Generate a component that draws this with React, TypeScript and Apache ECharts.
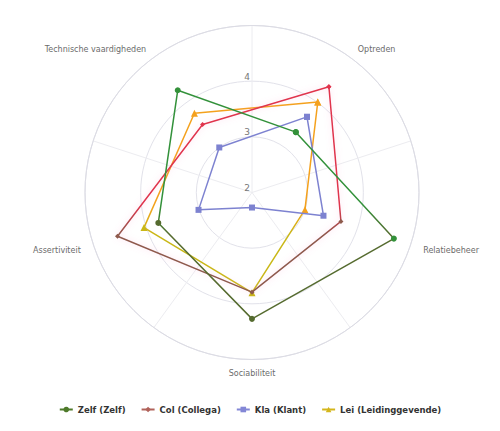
import React, { useEffect, useRef } from "react";
import * as echarts from "echarts";

const categories = ["Optreden", "Relatiebeheer", "Sociabiliteit", "Assertiviteit", "Technische vaardigheden"];
const seriesNames = ["Zelf (Zelf)", "Col (Collega)", "Kla (Klant)", "Lei (Leidinggevende)"];
const zelf = [3.34, 4.68, 4.27, 3.77, 4.27];
const col = [4.35, 3.68, 3.79, 4.54, 3.51];
const kla = [3.68, 3.35, 2.27, 3.01, 3.0];
const lei = [4.01, 3.0, 3.8, 4.04, 3.76];
const radiusTicks = [2, 3, 4, 5];

// styles
const topColors = ["#33913a", "#e0344c", "#7d82d0", "#f4a11e"];
const bottomColors = ["#556b2f", "#8e5a4c", "#7d82d0", "#c9b716"];
const legendColors = ["#4e7a2a", "#b0625a", "#8387d6", "#d4b61c"];
const symbols = ["circle", "diamond", "rect", "triangle"];
const symbolSizes = [6, 5, 6, 7];
const glowColors = ["rgba(0,0,0,0)", "rgba(255,140,200,0.35)", "rgba(0,0,0,0)", "rgba(0,0,0,0)"];
// per-label text tweaks (by category position)
const labelTweaks = [
  { padding: [0, 0, -3, 0] },
  { lineHeight: 4 },
  {},
  { lineHeight: 4 },
  { padding: [0, 0, -3, 0] },
];
// which points use the lower colour (per series, per category)
const lowerFlags = [
  [false, false, true, true, false],
  [false, true, true, true, false],
  [false, false, false, false, false],
  [false, false, true, true, false],
];

export default function App() {
  const ref = useRef<HTMLDivElement>(null);
  useEffect(() => {
    if (!ref.current) return;
    const chart = echarts.init(ref.current, undefined, { renderer: "svg" });
    const all = [zelf, col, kla, lei];
    const font = "DejaVu Sans";
    const series = all.map((vals, s) => {
      const pts = vals.map((v, i) => ({
        value: [v, i],
        itemStyle: { color: lowerFlags[s][i] ? bottomColors[s] : topColors[s] },
      }));
      pts.push({ value: [vals[0], 0], itemStyle: { color: lowerFlags[s][0] ? bottomColors[s] : topColors[s] } });
      return {
        name: seriesNames[s],
        type: "line",
        coordinateSystem: "polar",
        data: pts,
        symbol: symbols[s],
        symbolSize: symbolSizes[s],
        itemStyle: { color: legendColors[s] },
        lineStyle: {
          width: 1.5,
          shadowColor: glowColors[s],
          shadowBlur: 6,
          color: {
            type: "linear",
            x: 0,
            y: 205,
            x2: 0,
            y2: 235,
            global: true,
            colorStops: [
              { offset: 0, color: topColors[s] },
              { offset: 1, color: bottomColors[s] },
            ],
          },
        },
        z: 10 - s,
      };
    });
    const baseLabel = { color: "#6b6b6b", fontSize: 8, lineHeight: 1, fontFamily: font };
    chart.setOption({
      animation: false,
      backgroundColor: "#ffffff",
      textStyle: { fontFamily: font },
      polar: { center: [252, 192.5], radius: 167 },
      angleAxis: {
        type: "category",
        data: categories.map((c, i) => ({ value: c, textStyle: { ...baseLabel, ...labelTweaks[i] } })),
        startAngle: 90,
        clockwise: true,
        boundaryGap: true,
        axisLine: { show: true, lineStyle: { color: "#dcdce4", width: 1 } },
        axisTick: { show: false },
        axisLabel: { ...baseLabel, margin: 13 },
        splitLine: { show: true, lineStyle: { color: "#ececf0", width: 1 } },
      },
      radiusAxis: {
        type: "value",
        min: radiusTicks[0],
        max: radiusTicks[radiusTicks.length - 1],
        interval: 1,
        axisLine: { show: false },
        axisTick: { show: false },
        axisLabel: {
          color: "#777777",
          fontSize: 9,
          fontFamily: font,
          margin: 2,
          align: "right",
          verticalAlign: "bottom",
          formatter: (v: number) => (v === radiusTicks[radiusTicks.length - 1] ? "" : String(v)),
        },
        splitLine: { show: true, lineStyle: { color: "#e2e2ea", width: 1 } },
      },
      legend: {
        bottom: 12,
        left: "center",
        itemWidth: 13,
        itemHeight: 7,
        itemGap: 15,
        textStyle: { fontSize: 8.5, fontWeight: "bold", color: "#333", fontFamily: font },
        data: seriesNames.map((n, s) => ({
          name: n,
          itemStyle: { color: legendColors[s] },
          lineStyle: { color: legendColors[s] },
        })),
      },
      series,
    });
    return () => chart.dispose();
  }, []);
  return <div ref={ref} style={{ position: "absolute", left: 0, top: 0, width: 500, height: 431 }} />;
}
